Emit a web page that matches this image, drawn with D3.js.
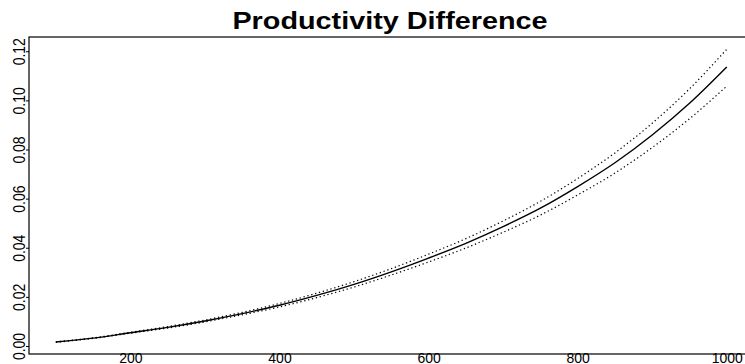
<!DOCTYPE html>
<html>
<head>
<meta charset="utf-8">
<script src="https://cdn.jsdelivr.net/npm/d3@7"></script>
<style>
  body { margin: 0; background: #fff; }
  text { font-family: "Liberation Sans", Arial, sans-serif; fill: #000; }
</style>
</head>
<body>
<div id="chart-area"></div>
<script>
// Data
var xValues = [100, 150, 200, 250, 300, 350, 400, 450, 500, 550,
               600, 650, 700, 750, 800, 850, 900, 950, 1000];
var fitValues = [0.0016, 0.0032, 0.0054, 0.0076, 0.0102, 0.0132, 0.0166, 0.0206, 0.0251, 0.0302,
                 0.0358, 0.0418, 0.0486, 0.0561, 0.0649, 0.0746, 0.0859, 0.0988, 0.1136];
var upperValues = [0.0017, 0.0033, 0.0056, 0.0079, 0.0106, 0.0137, 0.0173, 0.0215, 0.0262, 0.0315,
                   0.0374, 0.0437, 0.0509, 0.0589, 0.0682, 0.0786, 0.0907, 0.1047, 0.1208];
var lowerValues = [0.0015, 0.0031, 0.0052, 0.0073, 0.0098, 0.0127, 0.0159, 0.0197, 0.0240, 0.0289,
                   0.0342, 0.0399, 0.0463, 0.0533, 0.0615, 0.0704, 0.0808, 0.0925, 0.1058];
var xTicks = [200, 400, 600, 800, 1000];
var yTicks = [0.00, 0.02, 0.04, 0.06, 0.08, 0.10, 0.12];
var title = "Productivity Difference";

var width = 745, height = 364;
var plot = { left: 29, right: 753.6, top: 37, bottom: 354 };

var svg = d3.select("#chart-area")
    .append("svg")
        .attr("width", width)
        .attr("height", height);

// Scales (R style 4% padding on data range)
var x = d3.scaleLinear()
    .domain([64, 1036])
    .range([plot.left, plot.right]);

var y = d3.scaleLinear()
    .domain([-0.00326, 0.1258])
    .range([plot.bottom, plot.top]);

// Title
svg.append("text")
    .attr("transform", "translate(390,28.5) scale(1.2,1)")
    .attr("text-anchor", "middle")
    .attr("font-size", "24px")
    .attr("font-weight", "bold")
    .text(title);

// Y axis
var yAxis = svg.append("g")
    .attr("transform", "translate(" + plot.left + ",0)")
    .call(d3.axisLeft(y)
        .tickValues(yTicks)
        .tickSize(3)
        .tickFormat(d3.format(".2f")));
yAxis.select(".domain").remove();
yAxis.selectAll("line").attr("stroke", "#000");
yAxis.selectAll("text")
    .attr("x", 0)
    .attr("dy", 0)
    .attr("font-size", "14px")
    .attr("text-anchor", "middle")
    .attr("transform", "translate(-4,0) scale(1.2,1) rotate(-90)");

// X axis
var xAxis = svg.append("g")
    .attr("transform", "translate(0," + plot.bottom + ")")
    .call(d3.axisBottom(x)
        .tickValues(xTicks)
        .tickSize(0)
        .tickFormat(d3.format("d")));
xAxis.select(".domain").remove();
xAxis.selectAll("text")
    .attr("y", 8.5)
    .attr("dy", 0)
    .attr("font-size", "14px");

// Plot box
svg.append("rect")
    .attr("x", plot.left)
    .attr("y", plot.top)
    .attr("width", plot.right - plot.left)
    .attr("height", plot.bottom - plot.top)
    .attr("fill", "none")
    .attr("stroke", "#000")
    .attr("stroke-width", 1.2);

// Lines
function lineFor(values) {
    return d3.line()
        .x(function(d, i){ return x(xValues[i]); })
        .y(function(d){ return y(d); })
        .curve(d3.curveMonotoneX)(values);
}

svg.append("path")
    .attr("d", lineFor(upperValues))
    .attr("fill", "none")
    .attr("stroke", "#000")
    .attr("stroke-width", 1.2)
    .attr("stroke-dasharray", "1.3,2.7");

svg.append("path")
    .attr("d", lineFor(lowerValues))
    .attr("fill", "none")
    .attr("stroke", "#000")
    .attr("stroke-width", 1.2)
    .attr("stroke-dasharray", "1.3,2.7");

svg.append("path")
    .attr("d", lineFor(fitValues))
    .attr("fill", "none")
    .attr("stroke", "#000")
    .attr("stroke-width", 1.4);
</script>
</body>
</html>
